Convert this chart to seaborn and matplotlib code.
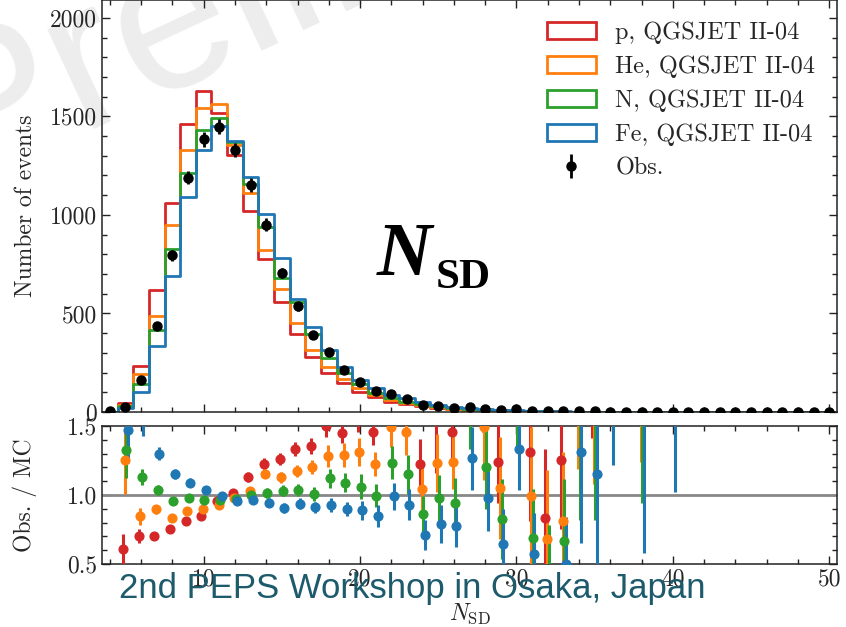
import numpy as np
import pandas as pd
import matplotlib
matplotlib.use("Agg")
import matplotlib.pyplot as plt
import seaborn as sns
from matplotlib.patches import Patch
from matplotlib.ticker import MultipleLocator, FormatStrFormatter

nan = np.nan

# bins of N_SD (top panel covers 4..50)
bins = np.arange(4, 51)

# MC predictions (QGSJET II-04), bins 4.., remaining bins are zero
mc_p = [2, 47, 231, 617, 1058, 1461, 1630, 1517, 1303, 1019, 777, 558, 397, 281, 200, 146,
        103, 75, 52, 41, 28, 19, 13, 9, 6, 4, 3, 2, 1, 1, 1]
mc_he = [2, 35, 193, 489, 951, 1330, 1540, 1561, 1354, 1113, 821, 624, 451, 315, 230, 166,
         120, 86, 61, 47, 34, 24, 16, 12, 9, 6, 4, 3, 2, 1, 1]
mc_n = [1, 30, 142, 417, 829, 1211, 1432, 1493, 1371, 1155, 940, 682, 556, 396, 272, 200,
        142, 98, 70, 52, 40, 30, 21, 15, 11, 8, 6, 4, 3, 2, 1, 1]
mc_fe = [1, 19, 103, 336, 689, 1093, 1330, 1452, 1376, 1194, 1003, 779, 573, 433, 315, 230,
         162, 120, 86, 71, 52, 38, 27, 20, 15, 11, 8, 6, 4, 3, 2, 2, 1, 1]

# observed events, bins 4..50
obs = [3, 25, 161, 438, 796, 1189, 1384, 1447, 1330, 1152, 951, 706, 536, 391, 303, 213,
       154, 108, 91, 64, 36, 30, 19, 27, 15, 10, 14, 7, 5, 5, 4, 3,
       2, 2, 1, 1, 1, 1, 1, 0, 0, 0, 1, 0, 0, 0, 0]
obs_err = [2, 5, 13, 21, 28, 34, 37, 38, 36, 34, 31, 27, 23, 20, 17, 15,
           12, 10, 10, 8, 6, 5, 4, 5, 4, 3, 4, 3, 2, 2, 2, 2,
           1.4, 1.4, 1, 1, 1, 1, 1, 0, 0, 0, 1, 0, 0, 0, 0]

# ratio panel, bins 5..40
rbins = np.arange(5, 41)
ratio_p = [0.61, 0.705, 0.705, 0.755, 0.81, 0.85, 0.96, 1.015, 1.13, 1.225, 1.26, 1.335,
           1.355, 1.50, 1.45, 1.62, 1.46, 1.85, 1.85, 1.225, 1.65, 1.46,
           nan, 1.8, 1.24, nan, 1.31, 0.835, 1.25, nan, 2.0, nan, nan, nan, nan, nan]
err_p = [0.11, 0.05, 0.03, 0.03, 0.025, 0.025, 0.03, 0.03, 0.035, 0.04, 0.045, 0.05,
         0.06, 0.08, 0.07, 0.16, 0.1, 0.1, 0.1, 0.18, 0.49, 0.2,
         nan, 0.34, 0.3, nan, 0.5, 0.5, 0.5, nan, 0.59, nan, nan, nan, nan, nan]
ratio_he = [1.25, 0.845, 0.895, 0.835, 0.885, 0.895, 0.925, 0.975, 1.03, 1.155, 1.13, 1.175,
            1.2, 1.285, 1.29, 1.31, 1.225, 1.495, 1.46, 1.045, 1.235, 1.24,
            nan, 1.49, 1.05, nan, 0.99, 0.68, 0.81, 2.0, 2.0, nan, nan, 2.0, nan, nan]
err_he = [0.24, 0.06, 0.03, 0.03, 0.025, 0.025, 0.025, 0.03, 0.03, 0.035, 0.04, 0.045,
          0.05, 0.08, 0.09, 0.1, 0.09, 0.15, 0.17, 0.18, 0.21, 0.2,
          nan, 0.38, 0.37, nan, 0.5, 0.5, 0.5, 0.81, 0.92, nan, nan, 0.76, nan, nan]
ratio_n = [1.325, 1.13, 1.035, 0.955, 0.98, 0.965, 0.965, 0.97, 1.0, 1.015, 1.03, 1.035,
           1.005, 1.12, 1.09, 1.06, 0.995, 1.235, 1.15, 0.86, 0.975, 0.945,
           1.8, 1.2, 0.825, 1.75, 0.69, 0.42, 0.665, 2.0, 2.0, nan, nan, 2.0, nan, nan]
err_n = [0.2, 0.06, 0.035, 0.03, 0.025, 0.025, 0.025, 0.025, 0.03, 0.035, 0.04, 0.045,
         0.05, 0.07, 0.07, 0.09, 0.085, 0.12, 0.14, 0.13, 0.17, 0.18,
         0.47, 0.3, 0.29, 0.42, 0.35, 0.36, 0.45, 1.18, 1.18, nan, nan, 1.06, nan, nan]
ratio_fe = [1.47, 1.56, 1.30, 1.15, 1.09, 1.035, 0.995, 0.96, 0.965, 0.945, 0.905, 0.935,
            0.91, 0.93, 0.9, 0.89, 0.85, 0.99, 0.93, 0.71, 0.79, 0.775,
            1.265, 0.98, 0.645, 1.335, 0.57, nan, 0.5, 1.315, 1.15, 2.0, nan, 2.0, nan, 2.0]
err_fe = [0.24, 0.13, 0.05, 0.035, 0.03, 0.025, 0.025, 0.025, 0.025, 0.03, 0.035, 0.04,
          0.04, 0.05, 0.05, 0.07, 0.08, 0.1, 0.11, 0.11, 0.14, 0.15,
          0.23, 0.24, 0.25, 0.3, 0.3, nan, 0.34, 0.66, 0.7, 0.78, nan, 1.42, nan, 0.98]

labels = ["p, QGSJET II-04", "He, QGSJET II-04", "N, QGSJET II-04", "Fe, QGSJET II-04"]
colors = ["#d62728", "#ff7f0e", "#2ca02c", "#1f77b4"]
offsets = [-0.15, -0.05, 0.05, 0.15]


def pad(vals):
    return [float(v) for v in vals] + [0.0] * (len(bins) - len(vals))


sns.set_theme(style="ticks")
plt.rcParams["font.family"] = ["cmr10", "Liberation Serif"]
plt.rcParams["mathtext.fontset"] = "cm"
plt.rcParams["axes.formatter.use_mathtext"] = False
plt.rcParams["font.size"] = 17

fig = plt.figure(figsize=(8.46, 6.27), dpi=100)

# faint watermark behind everything
fig.text(-0.054, 0.703, "Preliminary", fontsize=150, rotation=25, rotation_mode="anchor",
         color="#ededed", family="Liberation Sans", zorder=-5)

ax1 = fig.add_axes([0.1206, 0.3429, 0.8688, 0.657])
ax2 = fig.add_axes([0.1206, 0.1005, 0.8688, 0.2201], sharex=ax1)
for ax in (ax1, ax2):
    ax.patch.set_alpha(0)

# top panel: MC step histograms
for mc, c in zip([mc_p, mc_he, mc_n, mc_fe], colors):
    df = pd.DataFrame({"nsd": bins, "count": pad(mc)})
    sns.histplot(data=df, x="nsd", weights="count", discrete=True, element="step",
                 fill=False, color=c, linewidth=2, ax=ax1)
obs_h = ax1.errorbar(bins, obs, yerr=obs_err, fmt="o", color="black", ms=6.5,
                     elinewidth=2, capsize=0, zorder=5)

ax1.set_xlim(3.5, 50.5)
ax1.set_ylim(0, 2090)
ax1.set_ylabel("Number of events", fontsize=17)
ax1.set_xlabel("")
ax1.yaxis.set_major_locator(MultipleLocator(500))
ax1.yaxis.set_minor_locator(MultipleLocator(100))
ax1.xaxis.set_major_locator(MultipleLocator(10))
ax1.xaxis.set_minor_locator(MultipleLocator(2))
ax1.tick_params(labelbottom=False)

handles = [Patch(facecolor="none", edgecolor=c, linewidth=2) for c in colors] + [obs_h]
ax1.legend(handles, labels + ["Obs."], loc="upper right", bbox_to_anchor=(1.0, 1.0),
           frameon=False, fontsize=17.5, handlelength=2.0, handleheight=0.7,
           labelspacing=0.47, handletextpad=0.8)

# bottom panel: ratio Obs. / MC
ax2.axhline(1.0, color="#888888", lw=2, zorder=1)
for r, e, c, dx in zip([ratio_p, ratio_he, ratio_n, ratio_fe],
                       [err_p, err_he, err_n, err_fe], colors, offsets):
    ax2.errorbar(rbins + dx, r, yerr=e, fmt="o", color=c, ms=6.3, elinewidth=2.2,
                 capsize=0, zorder=3)
ax2.set_ylim(0.5, 1.5)
ax2.set_yticks([0.5, 1.0, 1.5])
ax2.yaxis.set_major_formatter(FormatStrFormatter("%.1f"))
ax2.yaxis.set_minor_locator(MultipleLocator(0.1))
ax2.set_ylabel("Obs. / MC", fontsize=17)
ax2.set_xlabel(r"$N_{\rm SD}$", fontsize=17, labelpad=8)

for ax in (ax1, ax2):
    ax.yaxis.set_label_coords(-0.089, 0.5)
    ax.tick_params(which="both", direction="in", top=True, right=True, labelsize=17,
                   width=1, color="#222222")
    ax.tick_params(which="major", length=6)
    ax.tick_params(which="minor", length=3.5)
    for s in ax.spines.values():
        s.set_linewidth(1.1)
        s.set_color("#222222")

# slide overlays
fig.text(0.445, 0.562, "N", fontsize=55, fontweight="bold", fontstyle="italic",
         family="Liberation Serif", color="black")
fig.text(0.515, 0.541, "SD", fontsize=31, fontweight="bold",
         family="Liberation Serif", color="black")
fig.text(0.487, 0.047, "2nd PEPS Workshop in Osaka, Japan", fontsize=25,
         family="Liberation Sans", color="#1c5a6c", ha="center", va="baseline", zorder=10)

fig.savefig("out.png", dpi=100)
